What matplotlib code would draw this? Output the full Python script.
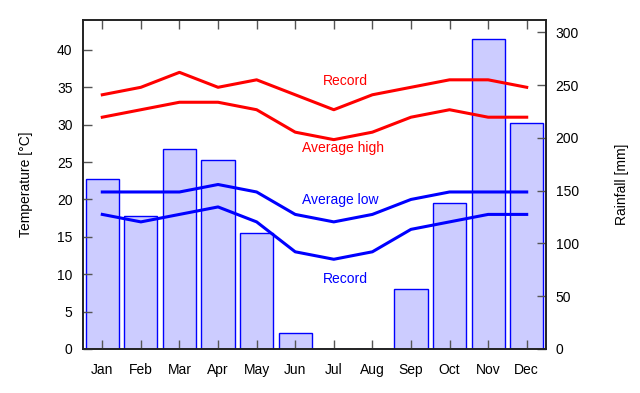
import matplotlib
matplotlib.use("Agg")
import matplotlib.pyplot as plt

months = ["Jan", "Feb", "Mar", "Apr", "May", "Jun", "Jul", "Aug", "Sep", "Oct", "Nov", "Dec"]
rainfall = [160.8, 125.7, 189.2, 178.8, 109.6, 15.2, 0, 0, 56.5, 138.0, 293.4, 214.1]
record_high = [34, 35, 37, 35, 36, 34, 32, 34, 35, 36, 36, 35]
avg_high = [31, 32, 33, 33, 32, 29, 28, 29, 31, 32, 31, 31]
avg_low = [21, 21, 21, 22, 21, 18, 17, 18, 20, 21, 21, 21]
record_low = [18, 17, 18, 19, 17, 13, 12, 13, 16, 17, 18, 18]
temp_ticks = [0, 5, 10, 15, 20, 25, 30, 35, 40]
rain_ticks = [0, 50, 100, 150, 200, 250, 300]

plt.rcParams['font.family'] = ['Liberation Sans', 'DejaVu Sans']
plt.rcParams['font.size'] = 10

fig = plt.figure(figsize=(6.4, 3.93), dpi=100)
ax = fig.add_axes([83/640, 44/393, (546-83)/640, (349-20)/393])
ax2 = ax.twinx()

x = list(range(len(months)))
ax2.bar(x, rainfall, width=0.86, color="#ccccff", edgecolor="#0000ff", linewidth=1.0)
ax2.set_ylim(0, 311.7)
ax2.set_yticks(rain_ticks)
ax2.tick_params(axis='y', direction='in', length=6.5, width=1, color='#555555', pad=7)
ax2.set_ylabel("Rainfall [mm]", labelpad=26)

ax.set_zorder(ax2.get_zorder() + 1)
ax.patch.set_visible(False)
lw = 2.2
ax.plot(x, record_high, color="#ff0000", lw=lw)
ax.plot(x, avg_high, color="#ff0000", lw=lw)
ax.plot(x, avg_low, color="#0000ff", lw=lw)
ax.plot(x, record_low, color="#0000ff", lw=lw)

ax.text(6.29, 35.85, "Record", color="#ff0000", ha="center", va="center")
ax.text(6.24, 26.9, "Average high", color="#ff0000", ha="center", va="center")
ax.text(6.16, 19.9, "Average low", color="#0000ff", ha="center", va="center")
ax.text(6.29, 9.36, "Record", color="#0000ff", ha="center", va="center")

ax.set_xlim(-0.5, 11.5)
ax.set_ylim(0, 44.0)
ax.set_yticks(temp_ticks)
ax.set_xticks(x)
ax.set_xticklabels(months)
ax.tick_params(axis='x', direction='in', length=6.5, width=1, color='#555555', top=True, pad=10)
ax.tick_params(axis='y', direction='in', length=6.5, width=1, color='#555555', pad=7.5)
ax.set_ylabel("Temperature [°C]", labelpad=17)

for a in (ax, ax2):
    for s in a.spines.values():
        s.set_linewidth(1.2)
        s.set_color('#222222')

fig.savefig("out.png", dpi=100)
